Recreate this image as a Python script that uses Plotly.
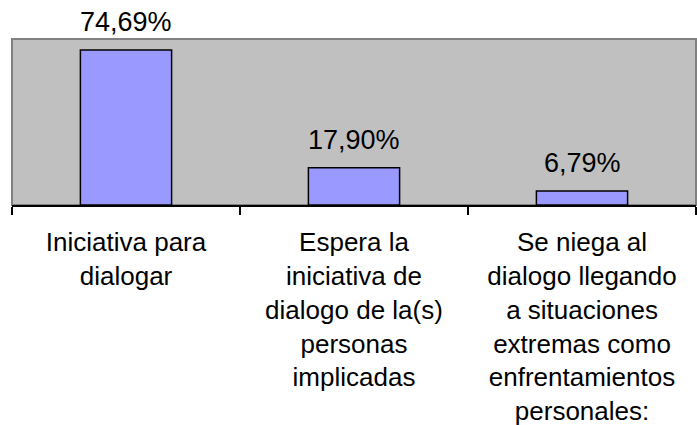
import plotly.graph_objects as go

categories = [
    "Iniciativa para<br>dialogar",
    "Espera la<br>iniciativa de<br>dialogo de la(s)<br>personas<br>implicadas",
    "Se niega al<br>dialogo llegando<br>a situaciones<br>extremas como<br>enfrentamientos<br>personales:",
]
values = [74.69, 17.90, 6.79]

fig = go.Figure()

fig.add_trace(go.Bar(
    x=categories,
    y=values,
    width=0.4,
    marker=dict(color='#9999FF', line=dict(color='black', width=1.5)),
    hoverinfo='skip'
))

# percent labels above the bars (comma decimals)
for c, v in zip(categories, values):
    fig.add_annotation(
        x=c, y=v, xref='x', yref='y',
        text=f"{v:.2f}".replace('.', ',') + '%',
        showarrow=False, yanchor='bottom', yshift=11,
        font=dict(family='Liberation Sans, Arial', size=27, color='black')
    )

# thin gray frame around the plot area
fig.add_shape(type='rect', xref='paper', yref='paper', x0=0, x1=1, y0=0, y1=1,
              line=dict(color='#808080', width=2), layer='below')

fig.update_layout(
    width=697, height=425,
    margin=dict(l=12, r=1, t=39, b=220),
    plot_bgcolor='#C0C0C0',
    paper_bgcolor='white',
    showlegend=False,
    xaxis=dict(
        type='category',
        range=[-0.5, 2.5],
        tickson='boundaries',
        ticks='outside', ticklen=8, tickwidth=2, tickcolor='black',
        showline=True, linecolor='black', linewidth=2,
        showgrid=False,
        automargin=False,
        ticklabelstandoff=13,
        tickfont=dict(family='Liberation Sans, Arial', size=26, color='black'),
    ),
    yaxis=dict(range=[0, 80], visible=False, showgrid=False, zeroline=False,
               automargin=False),
)

fig.write_html("out.html", config={'displayModeBar': False},
               post_script="document.body.style.margin='0';")
